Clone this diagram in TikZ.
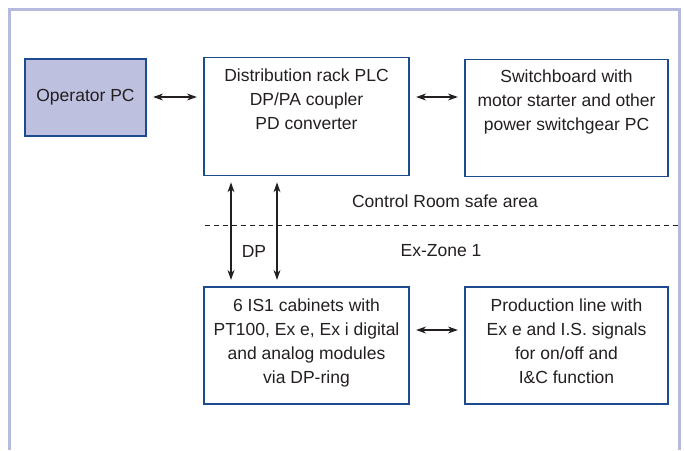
\documentclass[tikz,border=0pt]{standalone}
\usepackage{fontspec}
\usepackage{xcolor}
\usetikzlibrary{arrows.meta}
\setmainfont{Liberation Sans}
\definecolor{boxblue}{RGB}{30,74,143}
\definecolor{framelav}{RGB}{182,187,222}
\definecolor{oplav}{RGB}{190,192,224}
\definecolor{ink}{RGB}{35,31,32}

\begin{document}
\begin{tikzpicture}[
  x=1pt, y=-1pt,
  every node/.style={text=ink, font=\fontsize{17.5}{24}\selectfont},
  box/.style={draw=boxblue, line width=1.2pt, align=center},
  topbox/.style={box, inner ysep=0pt, minimum width=205pt,
    execute at begin node={\begin{minipage}[c][117.5pt][t]{192pt}\centering\vspace*{11pt}},
    execute at end node={\end{minipage}}},
  botbox/.style={box, inner ysep=0pt, minimum width=205pt,
    execute at begin node={\begin{minipage}[c][117pt][t]{192pt}\centering\vspace*{12pt}},
    execute at end node={\end{minipage}}},
  dbl/.style={{Stealth[length=10pt,width=7pt]}-{Stealth[length=10pt,width=7pt]},
    line width=1.1pt, draw=ink, shorten <=6.5pt, shorten >=6.5pt},
  zone/.style={draw=ink, line width=0.9pt, dash pattern=on 5pt off 4pt}
]
  \useasboundingbox (0,0) rectangle (684,450);
  \draw[framelav, line width=3pt] (9,450) -- (9,9.5) -- (679.5,9.5) -- (679.5,450);

  \node[box, fill=oplav, minimum width=121pt, minimum height=77pt] (op) at (85.5,97.5) {Operator PC};
  \node[topbox] (rack) at (306.5,116.5) {Distribution rack PLC\\DP/PA coupler\\PD converter};
  \node[topbox, minimum width=203pt] (switch) at (566.5,118) {Switchboard with\\motor starter and other\\power switchgear PC};
  \node[botbox] (cab) at (306.5,345.5)
    {6 IS1 cabinets with\\PT100, Ex e, Ex i digital\\and analog modules\\via DP-ring};
  \node[botbox, minimum width=203pt] (prod) at (566.5,345.5)
    {Production line with\\Ex e and I.S. signals\\for on/off and\\I\&C function};

  \coordinate (zl) at (205,225);
  \coordinate (zr) at (678,225);
  \draw[zone] (zl) -- (zr);
  \node (safe) at (445,201) {Control Room safe area};
  \node (exzone) at (441,251) {Ex-Zone 1};
  \node (dp) at (254,251) {DP};

  \draw[dbl] ([yshift=0.5pt]op.east) -- ([yshift=0.5pt]rack.west |- op.east);
  \draw[dbl] ([yshift=0.5pt]rack.east |- op.east) -- ([yshift=0.5pt]switch.west |- op.east);
  \draw[dbl] ([yshift=15.5pt]cab.east) -- ([yshift=15.5pt]prod.west);
  \draw[dbl] ([xshift=-75.5pt]rack.south) -- ([xshift=-75.5pt]cab.north);
  \draw[dbl] ([xshift=-29.5pt]rack.south) -- ([xshift=-29.5pt]cab.north);
\end{tikzpicture}
\end{document}
